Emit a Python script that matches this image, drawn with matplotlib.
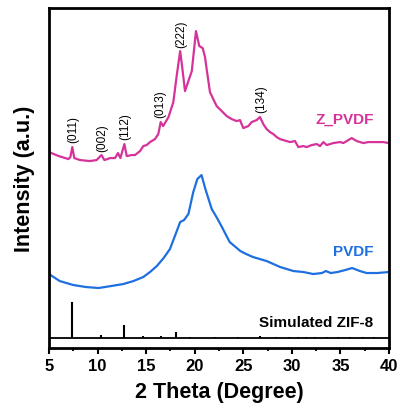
import numpy as np
import matplotlib
matplotlib.use('Agg')
import matplotlib.pyplot as plt

plt.rcParams['font.family'] = ['Liberation Sans', 'DejaVu Sans']

# Z_PVDF pattern (2theta, intensity a.u.)
zpvdf_x = [5.0, 6.0, 7.0, 7.2, 7.4, 7.6, 8.2, 9.2, 9.9, 10.4, 10.7, 11.3, 11.8, 12.1, 12.35,
           12.76, 13.0, 13.5, 13.85, 14.37, 14.71, 15.05, 15.4, 15.91, 16.25, 16.5, 16.75,
           17.3, 17.8, 18.1, 18.5, 18.7, 19.0, 19.35, 19.7, 20.13, 20.47, 20.82, 21.06,
           21.23, 21.57, 21.91, 22.26, 22.78, 23.29, 23.8, 24.32, 24.66, 25.0, 25.52, 25.86,
           26.38, 26.72, 27.06, 27.4, 27.75, 28.09, 28.44, 28.78, 29.47, 29.81, 30.32, 30.67,
           31.18, 31.53, 32.04, 32.56, 32.9, 33.24, 33.59, 34.27, 34.96, 35.3, 36.16, 36.68,
           37.36, 37.87, 38.39, 39.4, 40.0]
zpvdf_y = [196, 192, 189, 191, 201, 190, 188, 187, 188, 193, 188, 190, 190, 195, 190,
           204, 192, 193, 193, 197, 202, 203, 206, 209, 214, 226, 222,
           231, 246, 269, 297, 282, 257, 267, 277, 317, 302, 300, 291,
           279, 256, 249, 242, 237, 232, 229, 227, 228, 220, 222, 226,
           228, 231, 224, 219, 216, 214, 211, 209, 207, 206, 207, 201,
           202, 201, 203, 204, 202, 206, 203, 205, 206, 205, 210, 207,
           205, 206, 206, 206, 205]

# PVDF pattern
pvdf_x = [5.0, 6.1, 7.5, 8.8, 10.1, 11.4, 12.65, 13.7, 14.7, 15.4, 16.1, 16.8, 17.45, 18.0,
          18.5, 18.9, 19.35, 19.85, 20.27, 20.7, 21.1, 21.75, 22.3, 22.8, 23.6, 24.7, 25.3,
          26.0, 27.4, 28.8, 30.15, 31.2, 32.2, 33.1, 33.5, 34.0, 34.7, 35.5, 36.2, 37.0,
          37.7, 38.8, 40.0]
pvdf_y = [74, 67, 63, 61, 60, 62, 64, 67, 71, 76, 82, 90, 99, 113,
          126, 128, 134, 156, 169, 173, 159, 139, 130, 121, 106, 97, 94,
          91, 87, 81, 77, 76, 74, 75, 77, 75, 76, 78, 80, 77,
          75, 75, 76]

# Simulated ZIF-8 stick pattern
zif_x = [7.35, 10.4, 12.75, 14.7, 16.5, 18.05, 19.5, 22.1, 24.5, 26.7, 28.4, 29.7, 30.6,
         31.5, 32.4, 33.6, 34.8, 36.0, 37.3, 38.5]
zif_h = [36, 3, 13, 2, 2.5, 6, 1.5, 1.5, 1.5, 2, 1.2, 1.5, 1.2, 1.2, 1.2, 1.2, 1.2, 1.2,
         1.2, 1.2]
zif_base = 10

peak_labels = ['(011)', '(002)', '(112)', '(013)', '(222)', '(134)']
peak_x = [7.5, 10.5, 12.8, 16.5, 18.65, 26.8]
peak_y = [206, 197, 209, 231, 301, 236]

c_z = '#D6339A'
c_p = '#1E6FE0'

fig = plt.figure(figsize=(4.0, 4.14), dpi=100)
ax = fig.add_axes([0.1225, 0.157, 0.85, 0.821])

ax.plot(zpvdf_x, zpvdf_y, color=c_z, lw=1.6)
ax.plot(pvdf_x, pvdf_y, color=c_p, lw=1.6)
ax.axhline(zif_base, color='black', lw=1.3)
ax.vlines(zif_x, zif_base, np.array(zif_h) + zif_base, color='black', lw=1.5)

for lab, px, py in zip(peak_labels, peak_x, peak_y):
    ax.text(px, py, lab, rotation=90, ha='center', va='bottom', fontsize=8.5)

ax.text(38.4, 229, 'Z_PVDF', color=c_z, fontsize=11, fontweight='bold', ha='right', va='center')
ax.text(38.4, 97, 'PVDF', color=c_p, fontsize=11, fontweight='bold', ha='right', va='center')
ax.text(38.4, 26, 'Simulated ZIF-8', color='black', fontsize=11, fontweight='bold',
        ha='right', va='center')

ax.set_xlim(5, 40)
ax.set_ylim(0, 340)
ax.set_xticks(np.arange(5, 41, 5))
ax.set_xticks(np.arange(7.5, 40, 5), minor=True)
ax.set_yticks([])
ax.tick_params(axis='x', which='major', direction='out', length=4, width=1.5,
               labelsize=12, pad=3)
ax.tick_params(axis='x', which='minor', direction='out', length=2.5, width=1.3)
for lab in ax.get_xticklabels():
    lab.set_fontweight('bold')
for sp in ax.spines.values():
    sp.set_linewidth(2)

ax.set_xlabel('2 Theta (Degree)', fontsize=15.5, fontweight='bold', labelpad=6)
ax.set_ylabel('Intensity (a.u.)', fontsize=15.5, fontweight='bold', labelpad=10)

plt.savefig('out.png', dpi=100)
